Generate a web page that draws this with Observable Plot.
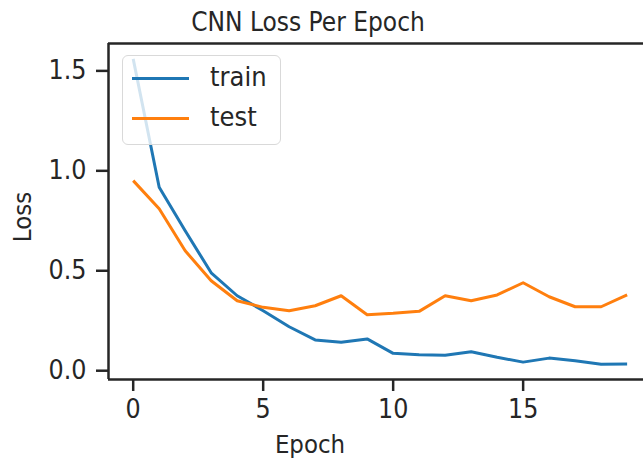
<!DOCTYPE html>
<html>
<head>
<meta charset="utf-8">
<script src="https://cdn.jsdelivr.net/npm/d3@7"></script>
<script src="https://cdn.jsdelivr.net/npm/@observablehq/plot@0.6"></script>
<style>
  html, body { margin: 0; padding: 0; background: #fff; }
  #wrap { position: relative; width: 643px; height: 463px; overflow: hidden; font-family: "DejaVu Sans Condensed", "DejaVu Sans", sans-serif; color: #262626; }
  .lbl { position: absolute; white-space: nowrap; font-size: 26px; line-height: 1; }
  #legend { position: absolute; left: 122px; top: 55px; width: 157px; height: 88px; border: 1.5px solid #d9d9d9; border-radius: 6px; background: rgba(255,255,255,0.8); }
  .lg-line { position: absolute; left: 9px; width: 57px; height: 0; border-top: 3px solid; }
  .lg-text { position: absolute; left: 87px; font-size: 27px; line-height: 1; color: #262626; }
</style>
</head>
<body>
<div id="wrap"></div>
<script>
const epochs = [0,1,2,3,4,5,6,7,8,9,10,11,12,13,14,15,16,17,18,19];
const trainLoss = [1.56,0.918,0.70,0.49,0.375,0.30,0.22,0.154,0.142,0.159,0.087,0.08,0.077,0.095,0.067,0.043,0.063,0.05,0.032,0.033];
const testLoss  = [0.951,0.81,0.60,0.45,0.35,0.317,0.30,0.325,0.375,0.28,0.287,0.297,0.375,0.35,0.379,0.44,0.37,0.32,0.32,0.379];
const seriesNames = ["train", "test"];
const seriesColors = ["#1f77b4", "#ff7f0e"];
const xTicks = [0, 5, 10, 15];
const yTicks = [0.0, 0.5, 1.0, 1.5];
const title = "CNN Loss Per Epoch";
const xLabel = "Epoch";
const yLabel = "Loss";

const rows = [];
epochs.forEach((e, i) => {
  rows.push({epoch: e, loss: trainLoss[i], series: seriesNames[0]});
  rows.push({epoch: e, loss: testLoss[i], series: seriesNames[1]});
});

const xDomain = [-0.95, 19.63];
const yDomain = [-0.044, 1.637];
const ink = "#262626";

const chart = Plot.plot({
  width: 643,
  height: 463,
  marginLeft: 108,
  marginRight: 0,
  marginTop: 43,
  marginBottom: 84,
  style: {fontFamily: "DejaVu Sans Condensed, DejaVu Sans, sans-serif", fontSize: "26.5px", color: ink, background: "#fff"},
  x: {domain: xDomain},
  y: {domain: yDomain},
  color: {domain: seriesNames, range: seriesColors},
  marks: [
    Plot.line(rows, {x: "epoch", y: "loss", stroke: "series", z: "series", strokeWidth: 3, strokeLinejoin: "round", strokeLinecap: "butt"}),
    Plot.axisX({ticks: xTicks, tickFormat: d => String(d), tickSize: 12, tickPadding: 8, strokeWidth: 2.5, stroke: ink, fill: ink, label: null}),
    Plot.axisY({ticks: yTicks, tickFormat: d => d.toFixed(1), tickSize: 12, tickPadding: 10, strokeWidth: 2.5, stroke: ink, fill: ink, label: null}),
    Plot.ruleX([xDomain[0]], {stroke: ink, strokeWidth: 2.5}),
    Plot.ruleY([yDomain[0], yDomain[1]], {stroke: ink, strokeWidth: 2.5})
  ]
});

const wrap = document.getElementById("wrap");
chart.style.position = "absolute";
chart.style.left = "0";
chart.style.top = "0";
wrap.appendChild(chart);

function addLabel(text, css) {
  const d = document.createElement("div");
  d.className = "lbl";
  d.textContent = text;
  Object.assign(d.style, css);
  wrap.appendChild(d);
  return d;
}
addLabel(title, {top: "9px", left: "308px", transform: "translateX(-50%)"});
addLabel(xLabel, {top: "432px", left: "310px", fontSize: "25.5px", transform: "translateX(-50%)"});
addLabel(yLabel, {top: "217px", left: "23px", fontSize: "25.5px", transform: "translate(-50%,-50%) rotate(-90deg)"});

const lg = document.createElement("div");
lg.id = "legend";
seriesNames.forEach((name, i) => {
  const ln = document.createElement("div");
  ln.className = "lg-line";
  ln.style.borderTopColor = seriesColors[i];
  ln.style.top = (21 + 40 * i) + "px";
  lg.appendChild(ln);
  const tx = document.createElement("div");
  tx.className = "lg-text";
  tx.textContent = name;
  tx.style.top = (7 + 40 * i) + "px";
  lg.appendChild(tx);
});
wrap.appendChild(lg);
</script>
</body>
</html>
